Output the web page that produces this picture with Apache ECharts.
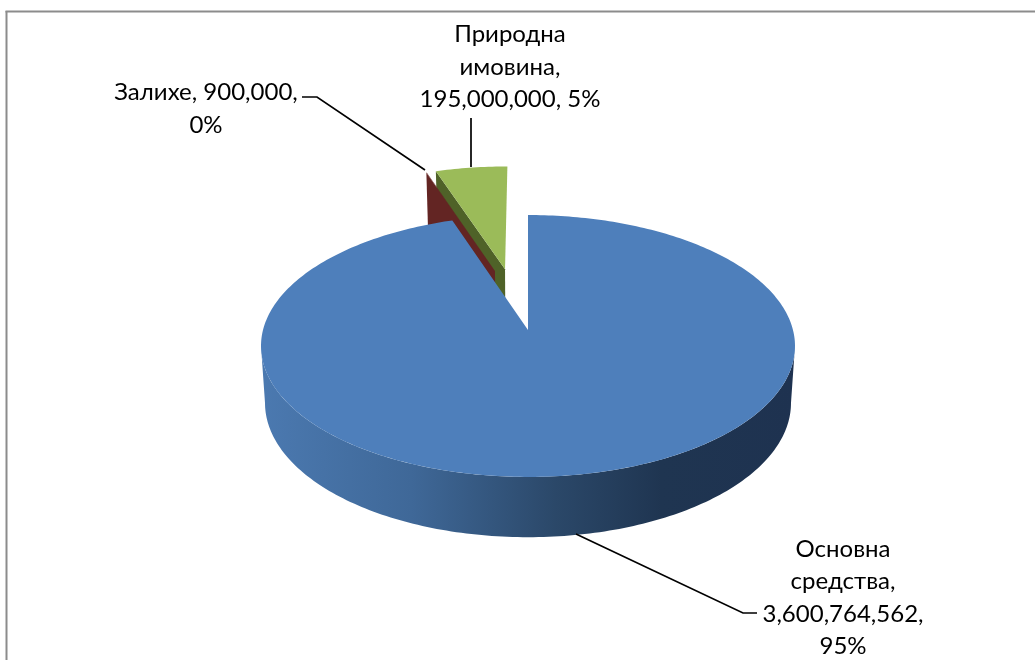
<!DOCTYPE html>
<html>
<head>
<meta charset="utf-8">
<style>html,body{margin:0;padding:0;background:#fff}#c{width:1035px;height:660px}</style>
<script src="https://cdn.jsdelivr.net/npm/echarts@6/dist/echarts.min.js"></script>
</head>
<body>
<div id="c"></div>
<script>
const categories = ['Основна\nсредства', 'Залихе', 'Природна\nимовина'];
const values = [3600764562, 900000, 195000000];
const separators = [[',\n', ',\n'], [', ', ',\n'], [',\n', ', ']];

const total = values.reduce((a, b) => a + b, 0);
const fmt = n => n.toLocaleString('en-US');
const FONT = '24px Lato, Carlito, "Open Sans", sans-serif';

// perspective projection of the pie disc
const AX = 528, AY = 330, C = 0.122, A = 129, E = 265;
const DEPTH = 56.5, BOTTOM_SCALE = 0.985;
const upper = (u, v) => { const w = 1 + C * v; return [AX + E * u / w, AY - A * v / w]; };
const lower = (u, v) => {
  const w = 1 + C * v, p = upper(u, v);
  return [AX + (p[0] - AX) * BOTTOM_SCALE, p[1] + DEPTH / Math.sqrt(w)];
};
const rad = d => d * Math.PI / 180;
const disc = (deg, o) => [o[0] + Math.sin(rad(deg)), o[1] + Math.cos(rad(deg))];
const arc = (a0, a1, o, f) => {
  const pts = [], n = Math.max(1, Math.ceil(Math.abs(a1 - a0)));
  for (let i = 0; i <= n; i++) { const q = disc(a0 + (a1 - a0) * i / n, o); pts.push(f(q[0], q[1])); }
  return pts;
};

// explosion of each slice on the disc
const explode = [[0, 0], [-0.132, 0.485], [-0.092, 0.5]];
const topColor = ['#4E7FBB', '#632523', '#9BBB59'];
const faceColor = ['#1f3551', '#632523', '#4F6228'];
const drawZ = [3, 2, 1];
const wallGradient = {
  type: 'linear', x: 262, y: 0, x2: 795, y2: 0, global: true,
  colorStops: [
    { offset: 0, color: '#4B79B0' }, { offset: 0.28, color: '#3F6898' },
    { offset: 0.55, color: '#2B4869' }, { offset: 0.75, color: '#1F3551' },
    { offset: 1, color: '#1E3250' }
  ]
};
const leaders = [
  [[576, 534], [743, 613], [757, 613]],
  [[302, 97], [317, 97], [425, 170]],
  [[471, 118], [471, 167]]
];
const labelPos = [[843, 598], [206, 109], [510, 67]];

function renderItem(params, api) {
  const i = params.dataIndex;
  const value = api.value(1);
  let start = 0;
  for (let k = 0; k < i; k++) start += values[k] / total * 360;
  const end = start + value / total * 360;
  const o = explode[i], z = drawZ[i];
  const apex = upper(o[0], o[1]), apexB = lower(o[0], o[1]);
  const children = [];
  const poly = (points, fill, zz) => children.push({
    type: 'polygon', shape: { points }, z2: zz,
    style: { fill, stroke: 'none' }
  });
  if (i === 0) {
    // wall between the two silhouette tangents of the disc
    const tangent = Math.acos(-C) * 180 / Math.PI;
    const w0 = tangent, w1 = 360 - tangent;
    poly(arc(w0, w1, o, upper).concat(arc(w1, w0, o, lower)), wallGradient, z);
  } else {
    const s = disc(start, o);
    const out = upper(s[0], s[1]), outB = lower(s[0], s[1]);
    poly([out, apex, apexB, outB], faceColor[i], z);
  }
  poly([apex].concat(arc(start, end, o, upper)), topColor[i], z + 0.5);

  children.push({
    type: 'polyline', shape: { points: leaders[i] }, z2: 10,
    style: { stroke: '#000', lineWidth: 1.7, fill: 'none' }
  });
  const sep = separators[i];
  const pct = Math.round(value / total * 100) + '%';
  children.push({
    type: 'text', z2: 11, x: labelPos[i][0], y: labelPos[i][1],
    style: {
      text: categories[i] + sep[0] + fmt(value) + sep[1] + pct,
      font: FONT, lineHeight: 32.5, fill: '#000',
      align: 'center', verticalAlign: 'middle'
    }
  });
  return { type: 'group', children };
}

const chart = echarts.init(document.getElementById('c'), null, { renderer: 'canvas' });
chart.setOption({
  animation: false,
  backgroundColor: '#fff',
  graphic: [
    { type: 'line', shape: { x1: 6.5, y1: 11, x2: 6.5, y2: 660 }, style: { stroke: '#8c8c8c', lineWidth: 2 } },
    { type: 'line', shape: { x1: 5.5, y1: 11.5, x2: 1035, y2: 11.5 }, style: { stroke: '#8c8c8c', lineWidth: 2 } }
  ],
  series: [{
    type: 'custom',
    coordinateSystem: 'none',
    silent: true,
    renderItem,
    data: values.map((v, i) => [i, v])
  }]
});
</script>
</body>
</html>
